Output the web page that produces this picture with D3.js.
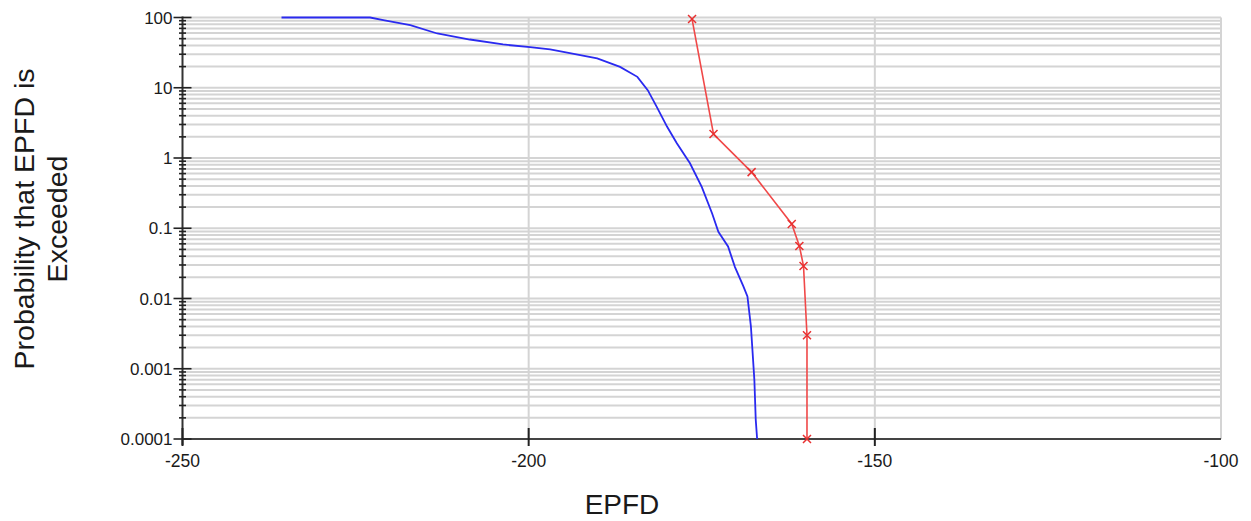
<!DOCTYPE html>
<html>
<head>
<meta charset="utf-8">
<script src="https://cdn.jsdelivr.net/npm/d3@7"></script>
<style>
  html, body { margin: 0; padding: 0; background: #fff; }
  svg { display: block; }
  text { font-family: "Liberation Sans", Arial, sans-serif; fill: #1a1a1a; }
</style>
</head>
<body>
<svg id="chart" width="1251" height="521"></svg>
<script>
// ---- data ----
const xTicks = [-250, -200, -150, -100];
const xTickLabels = ["-250", "-200", "-150", "-100"];
const yTicks = [100, 10, 1, 0.1, 0.01, 0.001, 0.0001];
const yTickLabels = ["100", "10", "1", "0.1", "0.01", "0.001", "0.0001"];

// blue curve (EPFD, probability %)
const blueX = [-235.7, -222.9, -221.0, -217.1, -213.2, -208.5, -203.7, -199.8, -196.9, -195.0, -190.1, -186.8, -184.3, -182.8, -181.5, -180.0, -178.6, -176.7, -175.0, -173.5, -172.6, -171.2, -170.2, -169.0, -168.4, -167.9, -167.7, -167.4, -167.2, -167.0];
const blueY = [100, 100, 91.5, 77.6, 59.2, 48.6, 41.3, 37.8, 35.1, 32.4, 26.1, 19.8, 14.3, 9.25, 5.35, 2.78, 1.62, 0.84, 0.389, 0.162, 0.089, 0.055, 0.028, 0.015, 0.0107, 0.004, 0.002, 0.00069, 0.000187, 0.0001];

// red curve with markers
const redX = [-176.4, -173.3, -167.8, -162.0, -160.9, -160.3, -159.8, -159.8];
const redY = [95, 2.19, 0.63, 0.115, 0.056, 0.029, 0.003, 0.0001];

const xTitle = "EPFD";
const yTitleLines = ["Probability that EPFD is", "Exceeded"];

// ---- drawing ----
const svg = d3.select("#chart");
const x = d3.scaleLinear().domain([-250, -100]).range([182.5, 1221]);
const y = d3.scaleLog().domain([0.0001, 100]).range([439, 17.5]);

const gridColor = "#d4d4d4";

// minor values
const allY = [];
for (let e = -4; e <= 1; e++) {
  for (let m = 1; m <= 9; m++) allY.push(m * Math.pow(10, e));
}
allY.push(100);

// horizontal gridlines
svg.append("g").selectAll("line").data(allY.filter(v => v > 0.0001)).join("line")
  .attr("x1", x(-250)).attr("x2", x(-100))
  .attr("y1", d => y(d)).attr("y2", d => y(d))
  .attr("stroke", gridColor).attr("stroke-width", 2);

// vertical gridlines
svg.append("g").selectAll("line").data(xTicks.filter(v => v > -250)).join("line")
  .attr("x1", d => x(d)).attr("x2", d => x(d))
  .attr("y1", y(100)).attr("y2", y(0.0001))
  .attr("stroke", gridColor).attr("stroke-width", 2);

// axes lines
svg.append("line").attr("x1", x(-250)).attr("x2", x(-250)).attr("y1", y(100) - 1).attr("y2", y(0.0001) + 6)
  .attr("stroke", "#333").attr("stroke-width", 2);
svg.append("line").attr("x1", x(-250)).attr("x2", x(-100)).attr("y1", y(0.0001)).attr("y2", y(0.0001))
  .attr("stroke", "#444").attr("stroke-width", 2);

// y ticks: minor & major
svg.append("g").selectAll("line").data(allY).join("line")
  .attr("x1", d => yTicks.includes(d) ? x(-250) - 9 : x(-250) - 3.5)
  .attr("x2", d => yTicks.includes(d) ? x(-250) + 9 : x(-250) + 3.5)
  .attr("y1", d => y(d)).attr("y2", d => y(d))
  .attr("stroke", "#222").attr("stroke-width", 1.6);

// x ticks
svg.append("g").selectAll("line").data(xTicks.filter(v => v < -100)).join("line")
  .attr("x1", d => x(d)).attr("x2", d => x(d))
  .attr("y1", y(0.0001) - 11).attr("y2", y(0.0001) + 7)
  .attr("stroke", "#222").attr("stroke-width", 2);

// y tick labels
svg.append("g").selectAll("text").data(yTicks).join("text")
  .attr("x", x(-250) - 10).attr("y", d => y(d))
  .attr("dy", "0.36em").attr("text-anchor", "end")
  .attr("font-size", 17)
  .text((d, i) => yTickLabels[i]);

// x tick labels
svg.append("g").selectAll("text").data(xTicks).join("text")
  .attr("x", d => x(d)).attr("y", 467)
  .attr("text-anchor", "middle").attr("font-size", 17.5)
  .text((d, i) => xTickLabels[i]);

// titles
svg.append("text").attr("x", 622).attr("y", 514).attr("text-anchor", "middle")
  .attr("font-size", 28).text(xTitle);

const yt = svg.append("text").attr("transform", "translate(34,219) rotate(-90)")
  .attr("text-anchor", "middle").attr("font-size", 28.5);
yt.selectAll("tspan").data(yTitleLines).join("tspan")
  .attr("x", 0).attr("dy", (d, i) => i === 0 ? 0 : 33).text(d => d);

// lines
const line = d3.line().x(d => x(d[0])).y(d => y(d[1]));
const blueData = blueX.map((v, i) => [v, blueY[i]]);
const redData = redX.map((v, i) => [v, redY[i]]);

svg.append("path").datum(blueData).attr("d", line)
  .attr("fill", "none").attr("stroke", "#2a2af0").attr("stroke-width", 1.8);

svg.append("path").datum(redData).attr("d", line)
  .attr("fill", "none").attr("stroke", "#f04848").attr("stroke-width", 1.6);

// red markers (x)
const s = 4;
svg.append("g").selectAll("path").data(redData).join("path")
  .attr("d", d => {
    const cx = x(d[0]), cy = y(d[1]);
    return `M${cx - s},${cy - s}L${cx + s},${cy + s}M${cx - s},${cy + s}L${cx + s},${cy - s}`;
  })
  .attr("stroke", "#e83030").attr("stroke-width", 1.5).attr("fill", "none");
</script>
</body>
</html>
